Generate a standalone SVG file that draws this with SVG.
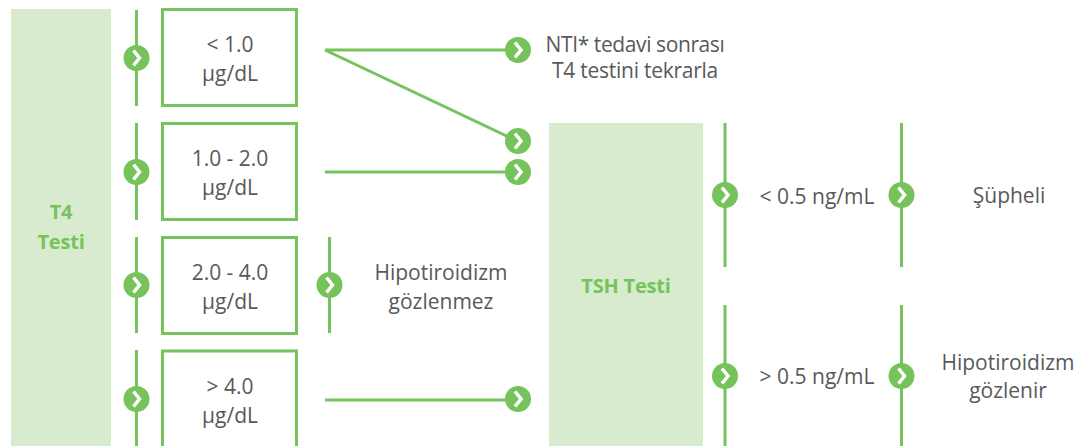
<svg xmlns="http://www.w3.org/2000/svg" width="1088" height="446" viewBox="0 0 1088 446">
<style>
.t{font-family:"Open Sans","Noto Sans",sans-serif;font-size:21px;fill:#58595b;text-anchor:middle}
.n{letter-spacing:-.25px}
.h{font-family:"Open Sans","Noto Sans",sans-serif;font-size:20px;font-weight:700;fill:#76c35c;text-anchor:middle;letter-spacing:-.2px}
.l{stroke:#76c35c;stroke-width:3;fill:none}
.box{stroke:#76c35c;stroke-width:3;fill:#fff}
.p{fill:#d9ebcf}
.c{fill:#76c35c}
.a{stroke:#fff;stroke-width:3.500;fill:none}
</style>
<defs><g id="b"><circle r="13" class="c"/><path d="M-3-7.500 L3 0 L-3 7.500" class="a"/></g></defs>
<rect width="1088" height="446" fill="#fff"/>
<g id="connectors">
<path class="l" d="M136.500 10V106M136.500 123V220M136.500 237V333M136.500 350V446M329.500 237V333M725 123V267M725 305V446M901.500 123V267M901.500 305V446"/>
<path class="l" d="M325 50H517M325 50L517 141M325 172H517M325 400H517"/>
</g>
<g id="t4"><rect class="p" x="11" y="9" width="100" height="437"/><text class="h" x="61" y="219">T4</text><text class="h" x="61" y="249">Testi</text></g>
<g id="n1"><rect class="box" x="162.500" y="9.500" width="134" height="96"/><text class="t" x="230" y="52">&lt; 1.0</text><text class="t" x="230" y="81">µg/dL</text></g>
<g id="n2"><rect class="box" x="162.500" y="123.500" width="134" height="96"/><text class="t" x="230" y="165.500">1.0 - 2.0</text><text class="t" x="230" y="194.500">µg/dL</text></g>
<g id="n3"><rect class="box" x="162.500" y="237.500" width="134" height="96"/><text class="t" x="230" y="279.500">2.0 - 4.0</text><text class="t" x="230" y="308.500">µg/dL</text></g>
<g id="n4"><rect class="box" x="162.500" y="351" width="134" height="100"/><text class="t" x="230" y="393.500">&gt; 4.0</text><text class="t" x="230" y="422.500">µg/dL</text></g>
<g id="tsh"><rect class="p" x="549" y="123" width="154" height="323"/><text class="h" x="626" y="293">TSH Testi</text></g>
<g id="nti"><text class="t n" x="635" y="52" style="letter-spacing:-.4px">NTI* tedavi sonrası</text><text class="t n" x="635" y="78">T4 testini tekrarla</text></g>
<g id="hg"><text class="t" x="441" y="279.500">Hipotiroidizm</text><text class="t" x="441" y="308.500">gözlenmez</text></g>
<g id="lo"><text class="t" x="817" y="203.500">&lt; 0.5 ng/mL</text></g>
<g id="hi"><text class="t" x="817" y="383.500">&gt; 0.5 ng/mL</text></g>
<g id="su"><text class="t" x="1009" y="203">Şüpheli</text></g>
<g id="hg2"><text class="t" x="1008" y="369.500">Hipotiroidizm</text><text class="t" x="1008" y="397.500">gözlenir</text></g>
<g id="bullets">
<use href="#b" x="136.500" y="58"/><use href="#b" x="136.500" y="172"/><use href="#b" x="136.500" y="285"/><use href="#b" x="136.500" y="399"/><use href="#b" x="329.500" y="285"/><use href="#b" x="518" y="50"/><use href="#b" x="518" y="141"/><use href="#b" x="518" y="172"/><use href="#b" x="518" y="399"/><use href="#b" x="725" y="195"/><use href="#b" x="725" y="376"/><use href="#b" x="901.500" y="195"/><use href="#b" x="901.500" y="376"/>
</g>
</svg>
